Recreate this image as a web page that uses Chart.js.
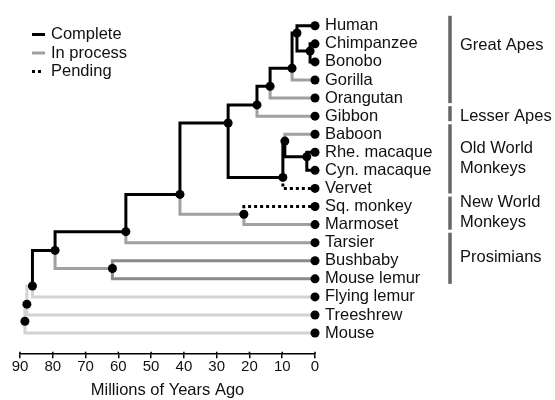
<!DOCTYPE html>
<html>
<head>
<meta charset="utf-8">
<script src="https://cdn.jsdelivr.net/npm/chart.js@4"></script>
<style>
html,body{margin:0;padding:0;background:#fff;}
canvas{display:block;}
</style>
</head>
<body>
<canvas id="c" width="555" height="400"></canvas>
<script>
// ---- data ----
const taxa = ["Human","Chimpanzee","Bonobo","Gorilla","Orangutan","Gibbon","Baboon","Rhe. macaque","Cyn. macaque","Vervet","Sq. monkey","Marmoset","Tarsier","Bushbaby","Mouse lemur","Flying lemur","Treeshrew","Mouse"];
// internal nodes (ids 18..34): divergence age (Mya) and vertical position (row units)
const nodeAge = [1.5, 5.5, 7.0, 13.7, 17.7, 2.5, 9.2, 9.8, 26.5, 21.7, 41.2, 57.7, 61.8, 79.3, 86.2, 87.9, 88.5];
const nodeRow = [1.4, 0.4, 2.35, 3.35, 4.38, 7.25, 6.38, 8.39, 5.38, 10.43, 9.33, 11.39, 13.43, 12.43, 14.4, 15.4, 16.35];
const edgeParent = [18,18,19,19,20,20,21,21,22,22,23,23,24,24,25,25,26,26,27,27,28,28,29,29,30,30,31,31,32,32,33,33,34,34];
const edgeChild  = [1,2,0,18,19,3,20,4,21,5,7,8,6,23,24,9,22,25,10,11,26,27,28,12,13,14,29,30,31,15,32,16,33,17];
const edgeStatus = ["complete","complete","complete","complete","complete","inprocess","complete","inprocess","complete","inprocess",
                    "complete","complete","inprocess","complete","complete","pending","complete","complete","pending","inprocess",
                    "complete","inprocess","complete","inprocess","inprocess2","inprocess2","complete","inprocess","complete","none",
                    "none","none","none","none"];
const xTicks = [90,80,70,60,50,40,30,20,10,0];
const legendLabels = ["Complete","In process","Pending"];
const legendStatus = ["complete","inprocess","pending"];
const groupLabels = [["Great Apes"],["Lesser Apes"],["Old World","Monkeys"],["New World","Monkeys"],["Prosimians"]];
const groupFirst = [0,5,6,10,12];
const groupLast  = [4,5,9,11,14];

// ---- styles ----
const FONT = "'Liberation Sans', Arial, Helvetica, sans-serif";
const TEXT = '#111';
const FS = 16.5;
const style = {
  none:       {color:'#d3d3d3', dash:[], order:5},
  inprocess:  {color:'#a0a0a0', dash:[], order:4},
  inprocess2: {color:'#8a8a8a', dash:[], order:3},
  complete:   {color:'#000000', dash:[], order:2},
  pending:    {color:'#000000', dash:[3,3], order:1}
};
const drawOrder = ['none','inprocess','inprocess2','complete','pending'];

const N = taxa.length;
const ageOf = i => i < N ? 0 : nodeAge[i - N];
const rowOf = i => i < N ? i : nodeRow[i - N];

function edgePath(status){
  const d = [];
  edgeStatus.forEach((s,k)=>{
    if (s !== status) return;
    const p = edgeParent[k], c = edgeChild[k];
    d.push({x:ageOf(p), y:rowOf(p)}, {x:ageOf(p), y:rowOf(c)}, {x:ageOf(c), y:rowOf(c)}, {x:ageOf(c), y:null});
  });
  return d;
}

const datasets = drawOrder.map(st => ({
  label: st,
  order: style[st].order,
  data: edgePath(st),
  borderColor: style[st].color,
  borderWidth: 3,
  borderDash: style[st].dash,
  borderCapStyle: 'butt',
  borderJoinStyle: 'miter',
  pointRadius: 0,
  tension: 0,
  spanGaps: false,
  fill: false,
  clip: false
}));
const allIds = [];
for (let i = 0; i < N + nodeAge.length; i++) allIds.push(i);
datasets.push({
  label: 'nodes',
  order: 0,
  data: allIds.map(i => ({x: ageOf(i), y: rowOf(i)})),
  showLine: false,
  pointRadius: 4.5,
  pointBorderWidth: 0,
  pointBackgroundColor: '#000',
  pointBorderColor: '#000',
  clip: false
});

const overlay = {
  id: 'overlay',
  afterDraw(chart){
    const ctx = chart.ctx, ys = chart.scales.y, xs = chart.scales.x;
    ctx.save();
    // small upward part of the x tick marks
    ctx.strokeStyle = '#000';
    ctx.lineWidth = 1.5;
    xTicks.forEach(v => {
      const px = xs.getPixelForValue(v);
      ctx.beginPath();
      ctx.moveTo(px, xs.top - 2.5);
      ctx.lineTo(px, xs.top);
      ctx.stroke();
    });
    ctx.font = FS + 'px ' + FONT;
    ctx.fillStyle = TEXT;
    ctx.textBaseline = 'middle';
    ctx.textAlign = 'left';
    // legend
    const ly = [34.5, 53, 71.5];
    legendLabels.forEach((t,i)=>{
      const st = style[legendStatus[i]];
      ctx.strokeStyle = st.color;
      ctx.lineWidth = 3;
      ctx.lineCap = 'butt';
      ctx.setLineDash(st.dash);
      ctx.beginPath();
      ctx.moveTo(32, ly[i]);
      ctx.lineTo(st.dash.length ? 42 : 45, ly[i]);
      ctx.stroke();
      ctx.setLineDash([]);
      ctx.fillText(t, 51, ly[i]);
    });
    // group brackets
    const labelRow = [1.1, 5, 7.33, 10.33, 12.82];
    groupLabels.forEach((lines,g)=>{
      const y1 = ys.getPixelForValue(groupFirst[g] - 0.55);
      const y2 = ys.getPixelForValue(groupLast[g] + 0.28);
      ctx.strokeStyle = '#666';
      ctx.lineWidth = 3.5;
      ctx.beginPath();
      ctx.moveTo(450, y1);
      ctx.lineTo(450, y2);
      ctx.stroke();
      const yc = ys.getPixelForValue(labelRow[g]);
      const lh = 20;
      lines.forEach((t,j)=>{
        ctx.fillText(t, 460, yc + (j - (lines.length-1)/2) * lh);
      });
    });
    ctx.restore();
  }
};

Chart.defaults.font.family = FONT;
new Chart(document.getElementById('c').getContext('2d'), {
  type: 'line',
  data: {datasets},
  options: {
    responsive: false,
    animation: false,
    events: [],
    layout: {padding: {top: 0, left: 20, right: 0, bottom: 0}},
    plugins: {legend: {display: false}, tooltip: {enabled: false}},
    scales: {
      x: {
        type: 'linear', position: 'bottom', min: 0, max: 90, reverse: true,
        afterBuildTicks: s => { s.ticks = xTicks.map(v => ({value: v})); },
        ticks: {font: {size: 15}, color: TEXT, padding: 0, maxRotation: 0, autoSkip: false},
        grid: {drawOnChartArea: false, drawTicks: true, tickLength: 4, color: '#000', lineWidth: 1.5},
        border: {display: true, color: '#000', width: 1.5},
        title: {display: true, text: 'Millions of Years Ago', font: {size: FS}, color: TEXT, padding: {top: 4, bottom: 0}}
      },
      y: {
        type: 'linear', position: 'right', reverse: true, min: -1.175, max: 18.17,
        afterBuildTicks: s => { s.ticks = taxa.map((t,i) => ({value: i})); },
        afterFit: s => { s.width = 240; s.paddingTop = 0; s.paddingBottom = 0; },
        ticks: {font: {size: FS}, color: TEXT, padding: 10, autoSkip: false, callback: v => taxa[v]},
        grid: {display: false, drawTicks: false},
        border: {display: false}
      }
    }
  },
  plugins: [overlay]
});
</script>
</body>
</html>
